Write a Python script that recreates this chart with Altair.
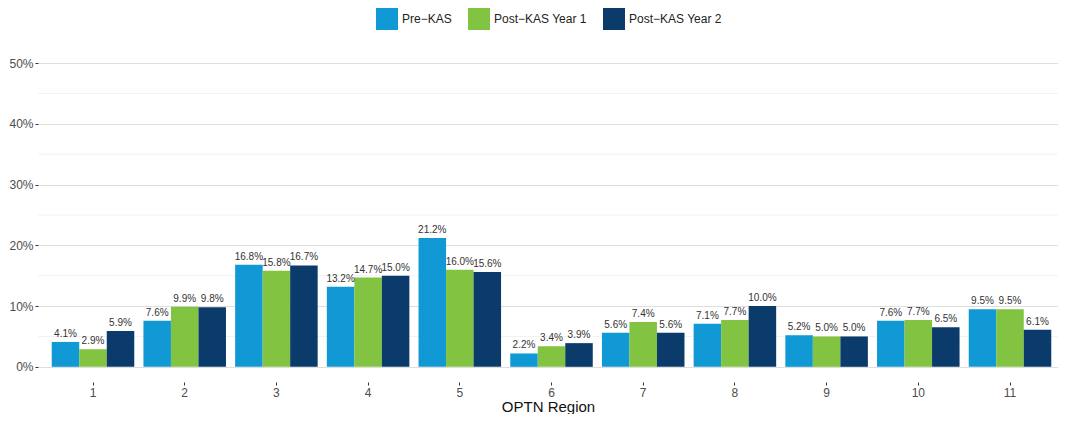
import altair as alt
import pandas as pd

regions = [1, 2, 3, 4, 5, 6, 7, 8, 9, 10, 11]
series = ["Pre\u2212KAS", "Post\u2212KAS Year 1", "Post\u2212KAS Year 2"]
pre_kas = [4.1, 7.6, 16.8, 13.2, 21.2, 2.2, 5.6, 7.1, 5.2, 7.6, 9.5]
post_y1 = [2.9, 9.9, 15.8, 14.7, 16.0, 3.4, 7.4, 7.7, 5.0, 7.7, 9.5]
post_y2 = [5.9, 9.8, 16.7, 15.0, 15.6, 3.9, 5.6, 10.0, 5.0, 6.5, 6.1]
colors = ["#1199D6", "#82C341", "#0B3B6B"]
major_ticks = [0, 10, 20, 30, 40, 50]
minor_ticks = [5, 15, 25, 35, 45]

rows = []
for name, vals in zip(series, [pre_kas, post_y1, post_y2]):
    for r, v in zip(regions, vals):
        rows.append({"region": r, "series": name, "value": v})
df = pd.DataFrame(rows)
minor_df = pd.DataFrame({"v": minor_ticks})

FONT = "Liberation Sans, Arial, sans-serif"
yscale = alt.Scale(domain=[-2.5, 52.5], nice=False, zero=False)

x = alt.X("region:O", title="OPTN Region",
          scale=alt.Scale(paddingInner=0, paddingOuter=0.0616, align=0.81),
          axis=alt.Axis(labelAngle=0, domain=False, ticks=True, tickSize=3,
                        tickColor="#333333", tickWidth=1, labelFontSize=12,
                        labelColor="#4D4D4D", labelPadding=2, titleFontSize=15,
                        titleFontWeight="normal", titleColor="#111111",
                        titleBaseline="alphabetic", titleY=29.5,
                        grid=False, labelFont=FONT, titleFont=FONT))
xoff = alt.XOffset("series:N", sort=series,
                   scale=alt.Scale(paddingInner=0, paddingOuter=0.1667))

minor = alt.Chart(minor_df).mark_rule(color="#F2F2F2", strokeWidth=1).encode(
    y=alt.Y("v:Q", scale=yscale)
)

bars = alt.Chart(df).mark_bar().encode(
    x=x,
    xOffset=xoff,
    y=alt.Y("value:Q", scale=yscale, title=None,
            axis=alt.Axis(values=major_ticks, labelExpr="datum.value + '%'",
                          domain=False, ticks=True, tickSize=3, tickColor="#333333",
                          labelFontSize=12, labelColor="#4D4D4D", labelPadding=2,
                          grid=True, gridColor="#DEDEDE", gridWidth=1.1, labelFont=FONT)),
    y2=alt.datum(0),
    color=alt.Color("series:N", sort=series,
                    scale=alt.Scale(domain=series, range=colors),
                    legend=alt.Legend(title=None, orient="none", direction="horizontal",
                                      legendX=338, legendY=-40,
                                      symbolType="square",
                                      symbolSize=484, symbolStrokeWidth=0,
                                      labelFontSize=12, labelColor="#222222",
                                      labelOffset=4, columnPadding=16, padding=0,
                                      labelFont=FONT)),
)

labels = alt.Chart(df).transform_calculate(
    lab="format(datum.value, '.1f') + '%'"
).mark_text(baseline="bottom", dy=-3, fontSize=10, color="#333333", font=FONT).encode(
    x=x,
    xOffset=xoff,
    y=alt.Y("value:Q", scale=yscale),
    text="lab:N",
)

chart = alt.layer(minor, bars, labels).properties(
    width=1020, height=334, autosize="none",
    padding={"left": 30, "top": 40, "right": 0, "bottom": 32},
    background="white",
).configure_view(stroke=None).configure_axis(labelFont=FONT, titleFont=FONT)

chart.save("out.html", embed_options={"renderer": "svg", "actions": False})
